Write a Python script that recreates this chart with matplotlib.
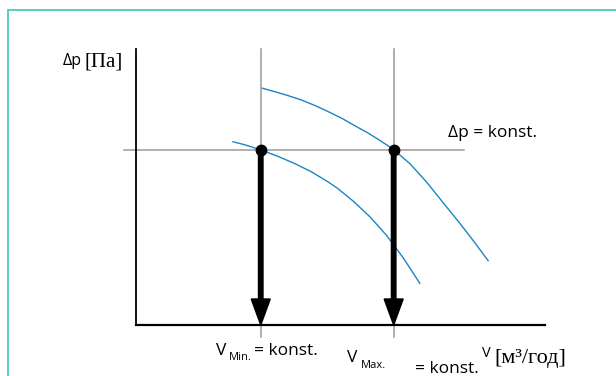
import matplotlib
matplotlib.use("Agg")
import matplotlib.pyplot as plt
from matplotlib.patches import Rectangle

W, H = 616, 376
BLUE = "#1a86c4"
GREY = "#9a9a9a"
SANS = ["Open Sans", "DejaVu Sans"]
SERIF = ["Liberation Serif", "DejaVu Serif"]

# schematic values (axis units 0..10)
v_min = 3.05
v_max = 6.3
dp_const = 6.35

# fan curves: upper (high speed), lower (low speed)
upper_x = [3.09, 3.40, 3.72, 4.05, 4.38, 4.70, 5.03, 5.35, 5.68, 5.95,
           6.29, 6.70, 7.11, 7.51, 7.92, 8.25, 8.61]
upper_y = [8.58, 8.45, 8.31, 8.15, 7.95, 7.73, 7.49, 7.22, 6.95, 6.70,
           6.37, 5.84, 5.17, 4.43, 3.68, 3.05, 2.33]
lower_x = [2.37, 2.66, 3.06, 3.47, 3.88, 4.29, 4.69, 4.91, 5.31, 5.72,
           6.13, 6.54, 6.94]
lower_y = [6.64, 6.53, 6.34, 6.11, 5.85, 5.55, 5.19, 4.97, 4.49, 3.92,
           3.24, 2.42, 1.51]


def px(x, y):
    return x / W, 1 - y / H


fig = plt.figure(figsize=(W / 100, H / 100), dpi=100)
fig.patches.append(Rectangle((8 / W, -0.1), 1.0, 1.1 - 10 / H,
                             transform=fig.transFigure, fill=False,
                             edgecolor="#3cc6b6", lw=1.2, clip_on=False))

x0, y0 = px(136, 325)
ax = fig.add_axes([x0, y0, 409 / W, 276 / H])
ax.set_xlim(0, 10)
ax.set_ylim(0, 10)
ax.patch.set_alpha(0)
for s in ["top", "right"]:
    ax.spines[s].set_visible(False)
ax.spines["left"].set_linewidth(1.3)
ax.spines["bottom"].set_linewidth(1.6)
ax.set_xticks([])
ax.set_yticks([])

# guide lines
for v in (v_min, v_max):
    ax.plot([v, v], [-0.43, 10], color=GREY, lw=1.1, clip_on=False, zorder=1)
ax.plot([-0.29, 8.03], [dp_const, dp_const], color=GREY, lw=1.1, clip_on=False, zorder=1)

ax.plot(upper_x, upper_y, color=BLUE, lw=1.0, zorder=2)
ax.plot(lower_x, lower_y, color=BLUE, lw=1.0, zorder=2)

for v in (v_min, v_max):
    ax.arrow(v, dp_const, 0, -dp_const, width=4.5 / 40.9, head_width=19 / 40.9,
             head_length=26 / 27.6, length_includes_head=True, color="black",
             zorder=4)
    ax.plot([v], [dp_const], "o", color="black", ms=7.5, zorder=5)

# labels
fig.text(*px(63, 65), "Δp", family=SANS, fontsize=11.5, va="baseline")
fig.text(*px(84, 66), "[Па]", family=SERIF, fontsize=15, va="baseline")
fig.text(*px(448, 137), "Δp = konst.", family=SANS, fontsize=12.5, va="baseline")

fig.text(*px(216, 355), "V", family=SANS, fontsize=12.5, va="baseline")
fig.text(*px(229, 360), "Min.", family=SANS, fontsize=8, va="baseline")
fig.text(*px(254, 355), "= konst.", family=SANS, fontsize=12.5, va="baseline")

fig.text(*px(347, 362), "V", family=SANS, fontsize=12.5, va="baseline")
fig.text(*px(361, 368), "Max.", family=SANS, fontsize=8, va="baseline")
fig.text(*px(415, 373), "= konst.", family=SANS, fontsize=12.5, va="baseline")

fig.text(*px(482, 357), "V", family=SANS, fontsize=10.5, va="baseline")
fig.text(*px(494, 363), "[м³/год]", family=SERIF, fontsize=16, va="baseline")

fig.savefig("out.png", dpi=100)
